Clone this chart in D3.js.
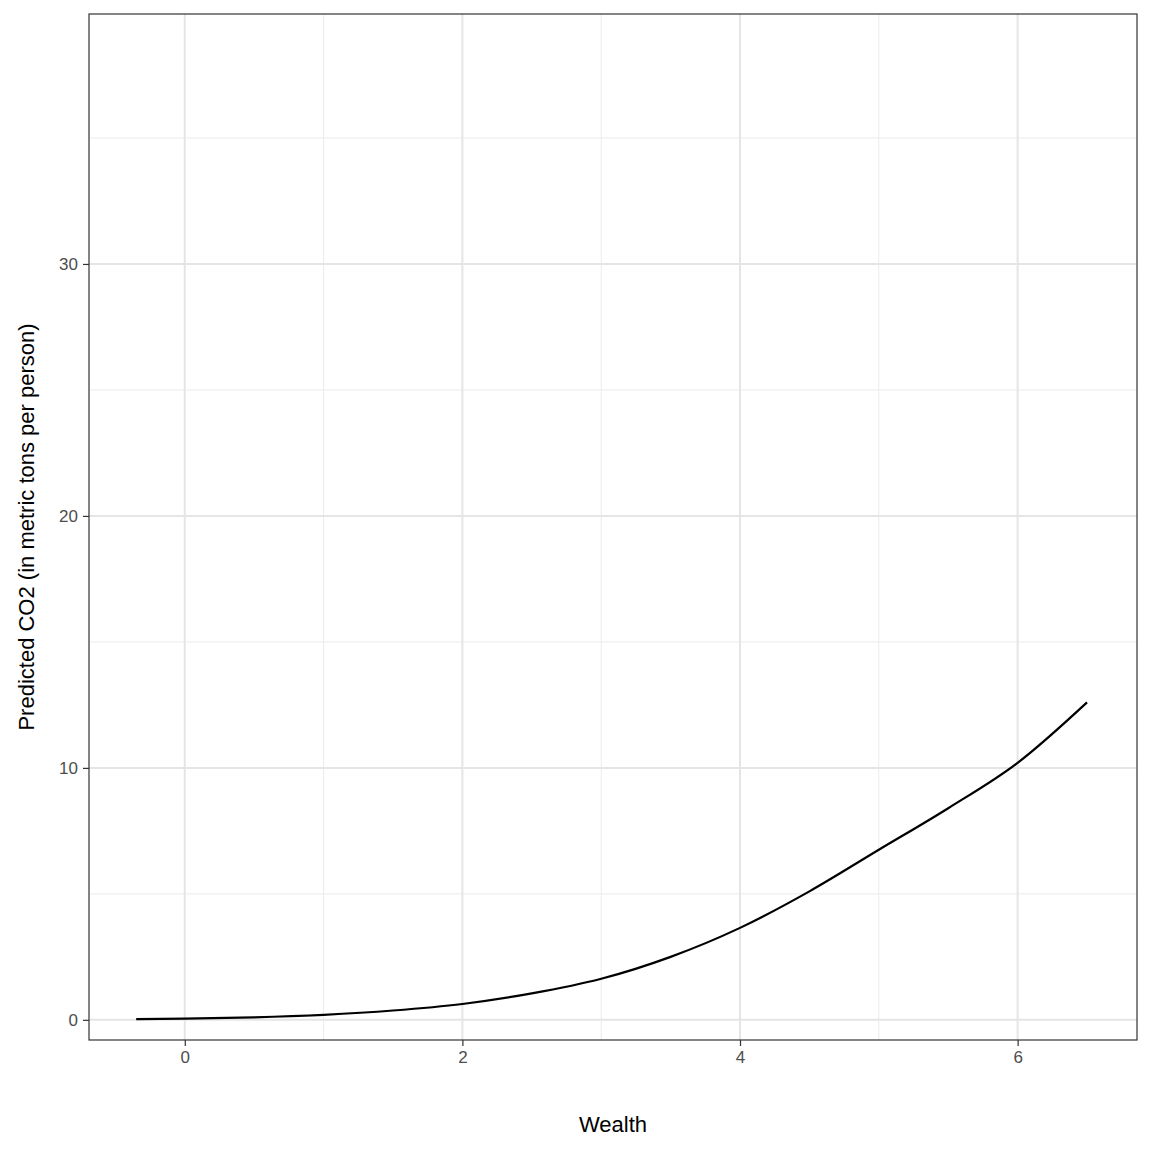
<!DOCTYPE html>
<html><head><meta charset="utf-8">
<script src="https://cdn.jsdelivr.net/npm/d3@7"></script>
<style>body{margin:0;background:#fff}</style>
</head><body>
<svg id="chart" width="1152" height="1152"></svg>
<script>
// curve
var wealth = [-0.35, 0, 0.5, 1, 1.5, 2, 2.5, 3, 3.5, 4, 4.5, 5, 5.5, 6, 6.5]
var co2 = [0.03, 0.05, 0.1, 0.2, 0.37, 0.63, 1.05, 1.63, 2.5, 3.65, 5.1, 6.75, 8.4, 10.2, 12.6]
var xTicks = [0, 2, 4, 6]
var xMinor = [1, 3, 5]
var yTicks = [0, 10, 20, 30]
var yMinor = [5, 15, 25, 35]

var svg = d3.select('#chart')
var pLeft = 89, pRight = 1137, pTop = 14, pBottom = 1040

var x = d3.scaleLinear().domain([-0.69, 6.86]).range([pLeft, pRight])
var y = d3.scaleLinear().domain([-0.8, 39.92]).range([pBottom, pTop])

var grid = svg.append('g')
xMinor.forEach(function(v){
  grid.append('line').attr('x1', x(v)).attr('x2', x(v)).attr('y1', pTop).attr('y2', pBottom)
    .attr('stroke', '#ebebeb').attr('stroke-width', 1)
})
yMinor.forEach(function(v){
  grid.append('line').attr('y1', y(v)).attr('y2', y(v)).attr('x1', pLeft).attr('x2', pRight)
    .attr('stroke', '#ebebeb').attr('stroke-width', 1)
})
xTicks.forEach(function(v){
  grid.append('line').attr('x1', x(v)).attr('x2', x(v)).attr('y1', pTop).attr('y2', pBottom)
    .attr('stroke', '#e5e5e5').attr('stroke-width', 2)
})
yTicks.forEach(function(v){
  grid.append('line').attr('y1', y(v)).attr('y2', y(v)).attr('x1', pLeft).attr('x2', pRight)
    .attr('stroke', '#e5e5e5').attr('stroke-width', 2)
})

var line = d3.line().x(function(d, i){ return x(wealth[i]) }).y(function(d){ return y(d) }).curve(d3.curveMonotoneX)
svg.append('path').datum(co2).attr('d', line).attr('fill', 'none').attr('stroke', '#000').attr('stroke-width', 2.2)

svg.append('rect').attr('x', pLeft).attr('y', pTop).attr('width', pRight - pLeft).attr('height', pBottom - pTop)
  .attr('fill', 'none').attr('stroke', '#333').attr('stroke-width', 1.2)

var xAxis = svg.append('g').attr('transform', 'translate(0,' + pBottom + ')')
  .call(d3.axisBottom(x).tickValues(xTicks).tickSize(6).tickPadding(5))
var yAxis = svg.append('g').attr('transform', 'translate(' + pLeft + ',0)')
  .call(d3.axisLeft(y).tickValues(yTicks).tickSize(6).tickPadding(5))
;[xAxis, yAxis].forEach(function(a){
  a.select('.domain').remove()
  a.selectAll('line').attr('stroke', '#333').attr('stroke-width', 1.2)
  a.selectAll('text').attr('fill', '#4d4d4d').style('font-family', 'Liberation Sans, Arial, sans-serif').style('font-size', '17px')
})

svg.append('text').attr('x', (pLeft + pRight) / 2).attr('y', 1132).attr('text-anchor', 'middle')
  .style('font-family', 'Liberation Sans, Arial, sans-serif').style('font-size', '22px').text('Wealth')
svg.append('text').attr('transform', 'translate(34,' + (pTop + pBottom) / 2 + ') rotate(-90)').attr('text-anchor', 'middle')
  .style('font-family', 'Liberation Sans, Arial, sans-serif').style('font-size', '22px').text('Predicted CO2 (in metric tons per person)')
</script>
</body></html>
